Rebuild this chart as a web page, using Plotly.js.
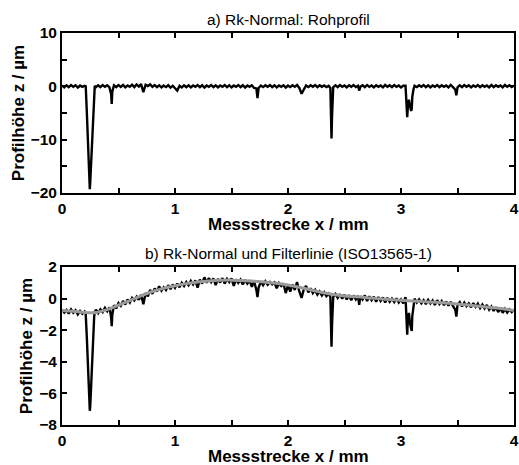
<!DOCTYPE html>
<html><head><meta charset="utf-8">
<script src="https://cdn.plot.ly/plotly-3.0.1.min.js"></script>
<style>body{margin:0;background:#fff}#plot{width:519px;height:465px}</style>
</head><body><div id="plot"></div>
<script>
// Messstrecke x / mm (shared by both profiles)
const messstrecke = [
 0,0.02,0.04,0.06,0.08,0.10,0.12,0.14,0.16,0.18,0.20,
 0.21,0.22,0.23,0.24,0.246,0.25,0.26,0.27,0.28,0.285,0.29,0.30,
 0.32,0.34,0.36,0.38,0.40,0.42,0.435,0.44,0.445,0.46,0.48,0.50,
 0.52,0.54,0.56,0.58,0.60,0.62,0.64,0.66,0.68,0.70,
 0.72,0.74,0.76,0.78,0.80,0.82,0.84,0.86,0.88,0.90,
 0.92,0.94,0.96,0.98,1.00,1.02,1.04,1.06,1.08,1.10,
 1.12,1.14,1.16,1.18,1.20,1.22,1.24,1.26,1.28,1.30,
 1.32,1.34,1.36,1.38,1.40,1.42,1.44,1.46,1.48,1.50,
 1.52,1.54,1.56,1.58,1.60,1.62,1.64,1.66,1.68,1.70,
 1.72,1.73,1.74,1.76,1.78,1.80,1.82,1.84,1.86,1.88,1.90,
 1.92,1.94,1.96,1.98,2.00,2.02,2.04,2.06,2.08,2.10,
 2.12,2.14,2.16,2.18,2.20,2.22,2.24,2.26,2.28,2.30,
 2.32,2.34,2.36,2.375,2.38,2.385,2.39,2.40,
 2.42,2.44,2.46,2.48,2.50,2.52,2.54,2.56,2.58,2.60,
 2.62,2.63,2.64,2.66,2.68,2.70,2.72,2.74,2.76,2.78,2.80,
 2.82,2.84,2.86,2.88,2.90,2.92,2.94,2.96,2.98,3.00,
 3.02,3.04,3.05,3.055,3.06,3.07,3.08,3.09,3.095,3.10,3.11,3.12,
 3.14,3.16,3.18,3.20,3.22,3.24,3.26,3.28,3.30,3.32,
 3.34,3.36,3.38,3.40,3.42,3.44,3.46,3.48,3.49,3.50,
 3.52,3.54,3.56,3.58,3.60,3.62,3.64,3.66,3.68,3.70,
 3.72,3.74,3.76,3.78,3.80,3.82,3.84,3.86,3.88,3.90,
 3.92,3.94,3.96,3.98,4.00
];
// a) Rohprofil, z / µm
const rohprofil = [
 0.15,-0.20,0.20,-0.15,0.25,-0.10,0.20,-0.25,0.15,-0.10,0.10,
 0.0,-5.0,-10.5,-16.5,-19.3,-18.0,-13.5,-8.5,-3.5,-0.8,0.10,-0.15,
 0.20,-0.15,0.25,-0.10,0.20,-0.20,-1.5,-3.3,-1.0,0.20,-0.15,0.25,
 -0.10,0.25,-0.20,0.15,-0.10,0.30,-0.15,0.35,-0.05,0.40,
 -1.1,0.30,0.05,0.35,-0.10,0.25,-0.15,0.20,-0.20,0.15,
 -0.15,0.20,-0.25,0.10,-0.30,-0.80,0.10,-0.20,0.20,-0.15,
 0.20,-0.20,0.15,-0.10,0.25,-0.15,0.20,-0.25,0.15,-0.10,
 0.25,-0.15,0.20,-0.20,0.15,-0.10,0.25,-0.15,0.20,-0.20,
 0.15,-0.10,0.25,-0.15,0.20,-0.25,0.15,-0.10,0.20,-0.30,
 -0.40,-2.2,-0.30,0.15,-0.15,0.20,-0.10,0.25,-0.15,0.20,-0.20,
 0.15,-0.10,0.20,-0.25,0.15,-0.15,0.20,-0.10,0.25,-0.30,
 -1.4,-0.60,0.15,-0.15,0.20,-0.10,0.25,-0.15,0.20,-0.10,
 0.15,-0.15,0.10,-0.30,-5.0,-9.8,-5.5,-0.20,
 0.20,-0.15,0.25,-0.10,0.15,-0.20,0.20,-0.10,0.25,-0.15,
 0.10,-0.80,-0.10,0.20,-0.15,0.25,-0.10,0.15,-0.20,0.20,-0.10,
 0.15,-0.20,0.25,-0.10,0.20,-0.15,0.25,-0.10,0.15,-0.20,
 0.10,0.10,-3.0,-5.8,-4.0,-2.5,-3.8,-4.6,-4.2,-2.0,-0.6,0.10,
 -0.15,0.20,-0.10,0.25,-0.15,0.20,-0.20,0.15,-0.10,0.25,
 -0.15,0.20,-0.10,0.15,-0.20,0.25,-0.15,-0.60,-1.7,-0.20,
 0.20,-0.15,0.25,-0.10,0.20,-0.20,0.15,-0.10,0.25,-0.15,
 0.20,-0.10,0.15,-0.20,0.25,-0.15,0.20,-0.10,0.15,-0.20,
 0.25,-0.10,0.20,-0.15,0.15
];
// b) Rk-Normal profile, z / µm
const rkNormal = [
 -0.70,-0.88,-0.72,-0.95,-0.68,-0.90,-0.74,-1.00,-0.78,-0.96,-0.82,
 -1.0,-2.5,-4.5,-6.5,-7.1,-6.8,-5.0,-3.4,-1.8,-1.1,-0.85,-0.70,
 -0.92,-0.68,-0.85,-0.58,-0.80,-0.55,-1.2,-1.75,-1.0,-0.42,-0.62,-0.28,
 -0.45,-0.15,-0.38,-0.05,-0.25,0.05,-0.12,0.12,-0.08,0.25,
 -0.35,0.35,0.15,0.55,0.30,0.65,0.45,0.78,0.50,0.72,
 0.55,0.85,0.60,0.90,0.68,0.95,0.72,1.00,0.80,1.05,
 0.85,1.12,0.90,1.15,0.70,1.20,0.95,1.35,1.00,1.30,
 1.05,1.28,0.85,1.25,1.02,1.30,0.95,1.25,1.05,1.28,
 0.80,1.22,1.00,1.20,0.90,1.18,0.95,1.15,0.75,1.10,
 0.55,0.10,0.70,1.08,0.85,1.10,0.88,1.05,0.90,1.02,0.65,
 0.98,0.80,0.95,0.35,0.85,0.45,0.90,0.55,1.05,0.45,
 0.05,0.60,0.80,0.40,0.65,0.35,0.55,0.25,0.45,0.20,
 0.40,0.15,0.32,0.10,-1.5,-3.05,-1.6,0.10,
 0.30,0.05,0.28,0.00,0.25,-0.05,0.22,-0.10,0.20,-0.05,
 0.18,-0.40,0.15,-0.05,0.20,-0.15,0.15,-0.10,0.12,-0.20,0.10,
 -0.15,0.08,-0.25,0.05,-0.20,0.00,-0.22,0.02,-0.25,-0.05,
 -0.30,0.10,-1.2,-2.28,-1.4,-0.9,-1.6,-1.95,-2.05,-1.1,-0.3,0.00,
 -0.25,-0.05,-0.30,-0.10,-0.35,-0.08,-0.30,-0.12,-0.40,-0.10,
 -0.35,-0.15,-0.42,-0.18,-0.45,-0.20,-0.48,-0.70,-1.14,-0.40,
 -0.22,-0.50,-0.25,-0.48,-0.30,-0.55,-0.28,-0.52,-0.32,-0.60,
 -0.38,-0.62,-0.40,-0.70,-0.50,-0.78,-0.55,-0.85,-0.60,-0.90,
 -0.65,-0.88,-0.68,-0.85,-0.72
];
// Filterlinie (ISO13565-1)
const filterX = [0,0.1,0.2,0.3,0.4,0.5,0.6,0.7,0.8,0.9,1.0,1.1,1.2,1.3,1.4,1.5,1.6,1.7,1.8,1.9,2.0,
 2.1,2.2,2.3,2.4,2.5,2.6,2.7,2.8,2.9,3.0,3.1,3.2,3.3,3.4,3.5,3.6,3.7,3.8,3.9,4.0];
const filterLinie = [-0.75,-0.80,-0.88,-0.88,-0.70,-0.42,-0.12,0.18,0.45,0.66,0.82,0.95,1.05,1.12,1.16,1.17,
 1.14,1.10,1.04,0.97,0.86,0.72,0.56,0.39,0.26,0.17,0.12,0.06,0.00,-0.06,-0.11,-0.15,-0.19,-0.23,-0.28,
 -0.34,-0.41,-0.49,-0.56,-0.64,-0.75];

// tick positions / labels
const xTickVals = [0,0.5,1,1.5,2,2.5,3,3.5,4];
const xTickText = ['0','','1','','2','','3','','4'];
const yTopTickVals = [-20,-15,-10,-5,0,5,10];
const yTopTickText = ['\u221220','','\u221210','','0','','10'];
const yBotTickVals = [-8,-6,-4,-2,0,2];
const yBotTickText = ['\u22128','\u22126','\u22124','\u22122','0','2'];
const titles = ['a) Rk-Normal: Rohprofil','b) Rk-Normal und Filterlinie (ISO13565-1)'];
const xTitle = 'Messstrecke x / mm';
const yTitle = 'Profilhöhe z / µm';

const FONT = 'Liberation Sans, Arial, Helvetica, sans-serif';
const tickFont = {family: FONT, size: 15.5, color: '#000', weight: 'bold'};
const titleFont = {family: FONT, size: 17, color: '#000', weight: 'bold'};

function xAxis(anchor) {
  return {
    anchor: anchor, range: [0, 4], tickmode: 'array', tickvals: xTickVals, ticktext: xTickText,
    ticks: 'inside', ticklen: 5, tickwidth: 2,
    tickcolor: '#000', showline: true, linewidth: 2, linecolor: '#000', mirror: 'allticks',
    showgrid: false, zeroline: false, tickfont: tickFont
  };
}
function yAxis(anchor, domain, range, vals, text) {
  return {
    anchor: anchor, domain: domain, range: range, tickmode: 'array', tickvals: vals, ticktext: text,
    ticks: 'inside', ticklen: 5, tickwidth: 2,
    tickcolor: '#000', showline: true, linewidth: 2, linecolor: '#000', mirror: 'allticks',
    showgrid: false, zeroline: false, tickfont: tickFont,
    title: {text: yTitle, font: titleFont, standoff: 2}
  };
}

const traces = [
  {x: messstrecke, y: rohprofil, xaxis: 'x', yaxis: 'y', mode: 'lines',
   line: {color: '#000', width: 2.4}, showlegend: false, hoverinfo: 'skip'},
  {x: messstrecke, y: rkNormal, xaxis: 'x2', yaxis: 'y2', mode: 'lines',
   line: {color: '#000', width: 2.4}, showlegend: false, hoverinfo: 'skip'},
  {x: filterX, y: filterLinie, xaxis: 'x2', yaxis: 'y2', mode: 'lines', line: {color: '#9a9a9a', width: 3, shape: 'spline'},
   showlegend: false, hoverinfo: 'skip'}
];

const layout = {
  width: 519, height: 465, paper_bgcolor: '#fff', plot_bgcolor: '#fff',
  margin: {l: 62, r: 5, t: 33, b: 40},
  xaxis: xAxis('y'), yaxis: yAxis('x', [0.592, 1], [-20, 10], yTopTickVals, yTopTickText),
  xaxis2: xAxis('y2'), yaxis2: yAxis('x2', [0, 0.403], [-8, 2], yBotTickVals, yBotTickText),
  annotations: [
    {text: titles[0], xref: 'paper', yref: 'paper', x: 0.5, y: 1, yanchor: 'bottom', yshift: 3,
     showarrow: false, font: {family: FONT, size: 15.5, color: '#000'}},
    {text: titles[1], xref: 'paper', yref: 'paper', x: 0.5, y: 0.403, yanchor: 'bottom', yshift: 3,
     showarrow: false, font: {family: FONT, size: 15.5, color: '#000'}},
    {text: xTitle, xref: 'paper', yref: 'paper', x: 0.5, y: 0.511, yanchor: 'middle',
     showarrow: false, font: titleFont},
    {text: xTitle, xref: 'paper', yref: 'paper', x: 0.5, y: -0.081, yanchor: 'middle',
     showarrow: false, font: titleFont}
  ]
};

Plotly.newPlot('plot', traces, layout, {staticPlot: true, displayModeBar: false});
</script></body></html>
